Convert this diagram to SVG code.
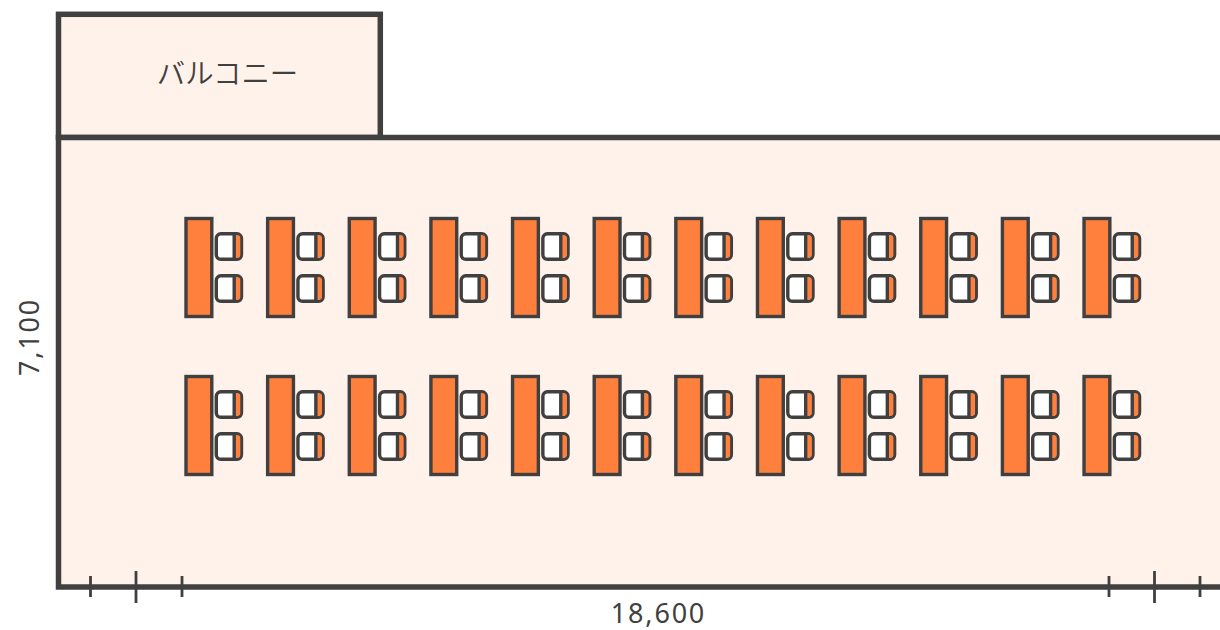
<svg xmlns="http://www.w3.org/2000/svg" xmlns:xlink="http://www.w3.org/1999/xlink" width="1220" height="630" viewBox="0 0 1220 630">
<style>
.room{fill:#fff2ea;stroke:#404040;stroke-width:5.5}
.t{fill:#404040;font-family:"Noto Sans CJK JP","Noto Sans",sans-serif;font-size:27px}
.n{font-family:"Noto Sans","Noto Sans CJK JP",sans-serif;letter-spacing:1.8px}
.tick{stroke:#404040;stroke-width:2.8;fill:none}
.desk{fill:#ff7f3c;stroke:#404040;stroke-width:3.4}
.seat{fill:#fff;stroke:#404040;stroke-width:3.4}
.back{fill:#ff7f3c}
.div{stroke:#404040;stroke-width:3.4;fill:none}
</style>
<defs>
<g id="chair">
<rect class="seat" x="216.3" y="0" width="25.2" height="25.5" rx="4.5"/>
<path class="back" d="M235 1.5h3a2.5 2.5 0 0 1 2.3 2.5v17.5a2.5 2.5 0 0 1-2.3 2.5h-3z"/>
<path class="div" d="M234.2 0v25.5"/>
</g>
<g id="unit">
<rect class="desk" x="186" y="218.5" width="25.8" height="98"/>
<use href="#chair" xlink:href="#chair" y="233.8"/>
<use href="#chair" xlink:href="#chair" y="275.8"/>
</g>
<g id="row">
<use href="#unit" xlink:href="#unit" x="0"/>
<use href="#unit" xlink:href="#unit" x="81.64"/>
<use href="#unit" xlink:href="#unit" x="163.28"/>
<use href="#unit" xlink:href="#unit" x="244.92"/>
<use href="#unit" xlink:href="#unit" x="326.56"/>
<use href="#unit" xlink:href="#unit" x="408.2"/>
<use href="#unit" xlink:href="#unit" x="489.84"/>
<use href="#unit" xlink:href="#unit" x="571.48"/>
<use href="#unit" xlink:href="#unit" x="653.12"/>
<use href="#unit" xlink:href="#unit" x="734.76"/>
<use href="#unit" xlink:href="#unit" x="816.4"/>
<use href="#unit" xlink:href="#unit" x="898.04"/>
</g>
</defs>
<rect width="1220" height="630" fill="#fff"/>
<g id="balcony">
<rect class="room" x="58.5" y="14.3" width="321.8" height="123.2"/>
<text class="t" x="227.5" y="84" text-anchor="middle" style="font-size:28.4px;font-weight:350">バルコニー</text>
</g>
<g id="hall">
<path class="room" d="M1225 137.5H58.5V587H1225z"/>
</g>
<g id="desks">
<use href="#row" xlink:href="#row"/>
<use href="#row" xlink:href="#row" y="158"/>
</g>
<g id="dimensions">
<path class="tick" d="M90.5 576V597M136 571V603M182 576V597M1109 576V597M1154.5 571V603M1200 576V597"/>
<text class="t n" x="658.5" y="623" text-anchor="middle">18,600</text>
<text class="t n" transform="translate(38.5 337) rotate(-90)" text-anchor="middle">7,100</text>
</g>
</svg>
